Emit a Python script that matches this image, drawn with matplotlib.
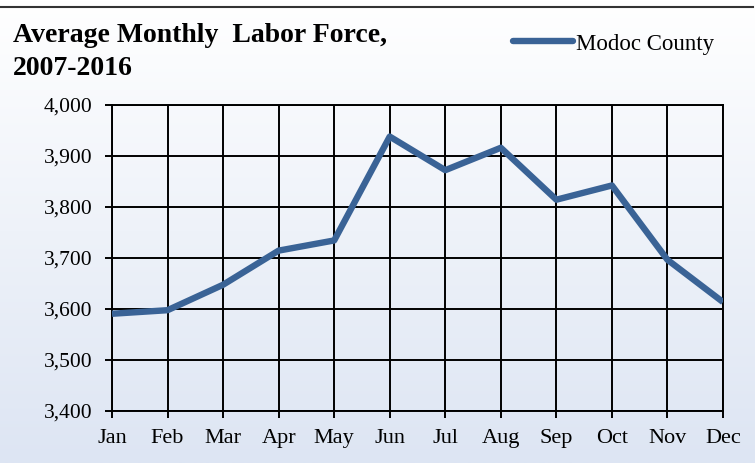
import numpy as np
import matplotlib
matplotlib.use("Agg")
import matplotlib.pyplot as plt
from matplotlib.lines import Line2D

months = ["Jan", "Feb", "Mar", "Apr", "May", "Jun", "Jul", "Aug", "Sep", "Oct", "Nov", "Dec"]
labor_force = [3590, 3597, 3647, 3714, 3734, 3938, 3872, 3916, 3814, 3842, 3696, 3613]
series_name = "Modoc County"
title_lines = ["Average Monthly  Labor Force,", "2007-2016"]
y_ticks = [3400, 3500, 3600, 3700, 3800, 3900, 4000]

plt.rcParams['font.family'] = ['Liberation Serif', 'DejaVu Serif']

fig = plt.figure(figsize=(7.55, 4.63), dpi=100)

# gradient background
bg = fig.add_axes([0, 0, 1, 1], zorder=-10)
grad = np.linspace(0, 1, 256).reshape(-1, 1)
top = np.array([1.0, 1.0, 1.0])
bottom = np.array([0xDD, 0xE5, 0xF3]) / 255.0
img = top + (bottom - top) * grad[..., None]
bg.imshow(img, aspect='auto', extent=[0, 1, 0, 1], origin='upper')
bg.set_axis_off()
# top frame line
bg.plot([0, 0.997], [1 - 7 / 463, 1 - 7 / 463], color='#333333', lw=1.5)
bg.set_xlim(0, 1)
bg.set_ylim(0, 1)

ax = fig.add_axes([112 / 755, 1 - 410.5 / 463, (723 - 112) / 755, (410.5 - 105) / 463])
ax.set_facecolor('none')

x = np.arange(len(months))
ax.plot(x, labor_force, color='#3A6396', lw=4.6, solid_capstyle='butt', zorder=3)

ax.set_xlim(0, len(months) - 1)
ax.set_ylim(3400, 4000)
ax.set_xticks(x)
ax.set_xticklabels(months, fontsize=16)
ax.set_yticks(y_ticks)
ax.set_yticklabels([f"{v:,}" for v in y_ticks], fontsize=15.5)
ax.grid(True, color='black', lw=1.4)
ax.tick_params(axis='both', length=5, width=1.4, color='black')
ax.tick_params(axis='y', pad=9)
ax.tick_params(axis='x', pad=8)
for s in ax.spines.values():
    s.set_color('black')
    s.set_linewidth(1.4)

fig.text(13 / 755, 1 - 42 / 463, title_lines[0], fontsize=20, fontweight='bold', va='baseline', ha='left')
fig.text(13 / 755, 1 - 75 / 463, title_lines[1], fontsize=20, fontweight='bold', va='baseline', ha='left')

handle = Line2D([0], [0], color='#3A6396', lw=4.6, solid_capstyle='round')
fig.legend([handle], [series_name], loc='center left', bbox_to_anchor=(513 / 755, 1 - 44 / 463),
           frameon=False, fontsize=16.5, handlelength=2.6, handletextpad=0.15, borderaxespad=0,
           borderpad=0)

fig.savefig("out.png", dpi=100)
